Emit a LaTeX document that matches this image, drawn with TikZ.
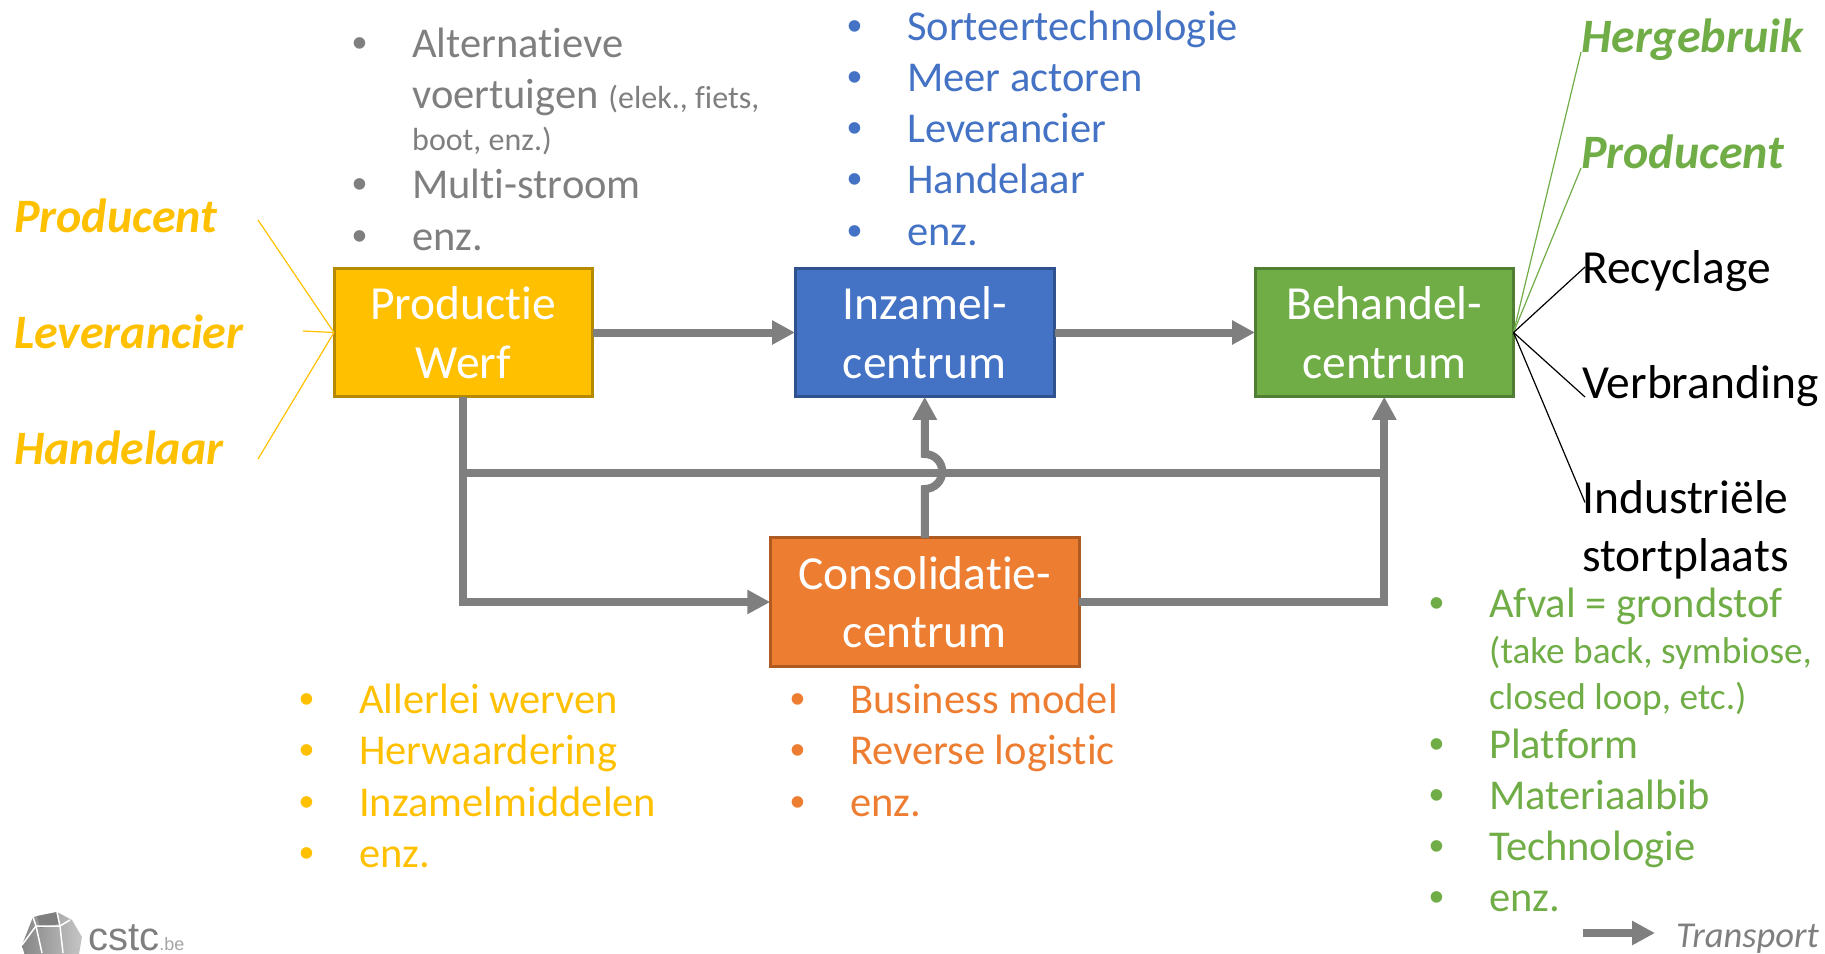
\documentclass[tikz,border=0pt]{standalone}
\usepackage{fontspec}
\setmainfont{Carlito}[Ligatures=NoCommon]
\newfontfamily\logofont{Liberation Sans}
\usetikzlibrary{positioning}
\usetikzlibrary{calc}
\usetikzlibrary{arrows.meta}
\definecolor{werfyellow}{HTML}{FFC000}
\definecolor{werfborder}{HTML}{B58900}
\definecolor{inzamelblue}{HTML}{4472C4}
\definecolor{inzamelborder}{HTML}{2F528F}
\definecolor{behandelgreen}{HTML}{70AD47}
\definecolor{behandelborder}{HTML}{507E32}
\definecolor{consorange}{HTML}{ED7D31}
\definecolor{consborder}{HTML}{AE5A21}
\definecolor{transportgrey}{HTML}{7F7F7F}
\newcommand{\bul}{\makebox[59pt][l]{\hspace*{-1pt}{\logofont\textbullet}}}
\newcommand{\ind}{\hspace*{59pt}}
\tikzset{%
  flow/.style = {draw=transportgrey,line width=8pt},
  flowarrow/.style = {flow,-{Triangle[length=23pt,width=23pt]}},
  box/.style = {rectangle,draw,line width=3pt,text=white,align=center,outer sep=0pt,
        minimum height=128.5pt,font=\fontsize{47.5}{58.5}\selectfont},
  blist/.style = {anchor=north west,inner sep=0pt,align=left,
        font=\fontsize{42.5}{51.2}\selectfont},
  role/.style = {anchor=base west,inner sep=0pt,font=\fontsize{48}{58}\selectfont\bfseries\itshape},
  outcome/.style = {anchor=base west,inner sep=0pt,align=left,font=\fontsize{47.5}{58}\selectfont}
}
\begin{document}
\begin{tikzpicture}[x=1pt,y=-1pt]
    \useasboundingbox (0,0) rectangle (1825,953);
    \node[box,fill=werfyellow,draw=werfborder,minimum width=258.5pt] (werf) at (463.25,332.5) {Productie\\Werf};
    \node[box,fill=inzamelblue,draw=inzamelborder,minimum width=259.5pt,right=202.5pt of werf] (inzamel) {Inzamel-\\centrum};
    \node[box,fill=behandelgreen,draw=behandelborder,minimum width=258.5pt,right=200.5pt of inzamel] (behandel) {Behandel-\\centrum};
    \node[box,fill=consorange,draw=consborder,minimum width=309pt] (cons) at (924.75,602) {Consolidatie-\\centrum};

    \coordinate (branch) at (463.25,473);
    \coordinate (jumplow) at ($(cons.north)+(0,-48.75)$);
    \draw[flowarrow] (werf) -- (inzamel);
    \draw[flowarrow] (inzamel) -- (behandel);
    \draw[flowarrow] (werf.south) |- (cons.west);
    \draw[flow] (branch) -- (branch -| behandel.south);
    \draw[flowarrow] (cons.east) -| (behandel.south);
    \draw[flowarrow] (cons.north) -- (jumplow) arc[start angle=90,end angle=-90,radius=17.5] -- (inzamel.south);

    \node[blist,text=transportgrey] (listwerfgrey) at (353,27.5) {\bul Alternatieve\\
        \ind voertuigen {\fontsize{32}{40}\selectfont(elek., fiets,}\\[-9pt]
        \ind{\fontsize{32}{40}\selectfont boot, enz.)}\\[-3pt]
        \bul Multi-stroom\\
        \bul enz.};
    \node[blist,text=inzamelblue] (listinzamel) at (848,10.5) {\bul Sorteertechnologie\\
        \bul Meer actoren\\
        \bul Leverancier\\
        \bul Handelaar\\
        \bul enz.};
    \node[blist,text=werfyellow] (listwerf) at (300,684) {\bul Allerlei werven\\
        \bul Herwaardering\\
        \bul Inzamelmiddelen\\
        \bul enz.};
    \node[blist,text=consorange] (listcons) at (791,684) {\bul Business model\\
        \bul Reverse logistic\\
        \bul enz.};
    \node[blist,text=behandelgreen] (listbehandel) at (1430,588) {\bul Afval = grondstof\\[-5pt]
        \ind{\fontsize{37.3}{45}\selectfont (take back, symbiose,}\\[-6pt]
        \ind{\fontsize{37.3}{45}\selectfont closed loop, etc.)}\\[-2pt]
        \bul Platform\\
        \bul Materiaalbib\\
        \bul Technologie\\
        \bul enz.};

    \node[role,text=werfyellow] (producent) at (14,232) {Producent};
    \node[role,text=werfyellow] (leverancier) at (14,348) {Leverancier};
    \node[role,text=werfyellow] (handelaar) at (14,464) {Handelaar};
    \coordinate (producentend) at (258,220);
    \coordinate (leverancierend) at (303,331);
    \coordinate (handelaarend) at (258,459);
    \draw[werfyellow,line width=1.2pt] (producentend) -- (werf.west);
    \draw[werfyellow,line width=1.2pt] (leverancierend) -- (werf.west);
    \draw[werfyellow,line width=1.2pt] (handelaarend) -- (werf.west);

    \node[role,text=behandelgreen] (hergebruik) at (1581,52) {Hergebruik};
    \node[role,text=behandelgreen] (producentuit) at (1581,168) {Producent};
    \node[outcome] (recyclage) at (1582,283) {Recyclage};
    \node[outcome] (verbranding) at (1582,398) {Verbranding};
    \node[outcome,anchor=north west] (stort) at (1582,480.5) {Industriële\\stortplaats};
    \draw[behandelgreen,line width=1.2pt] (behandel.east) -- (hergebruik.base west);
    \draw[behandelgreen,line width=1.2pt] (behandel.east) -- (producentuit.base west);
    \draw[line width=1.2pt] (behandel.east) -- ($(recyclage.base west)+(3,-16)$);
    \draw[line width=1.2pt] (behandel.east) -- ($(verbranding.base west)+(3,-1)$);
    \draw[line width=1.2pt] (behandel.east) -- ($(stort.north west)+(3,22)$);

    \coordinate (legendstart) at (1583,933);
    \coordinate (legendend) at (1655,933);
    \draw[flowarrow] (legendstart) -- (legendend);
    \node[anchor=base west,inner sep=0pt,text=transportgrey,font=\fontsize{36.5}{44}\selectfont\itshape] (legend) at (1676,947) {Transport};

    \begin{scope}
    \clip (0,0) rectangle (1825,953);
    \shade[left color=transportgrey!95,right color=transportgrey!45] (22,945) -- (33,917) -- (57,912) -- (72,920) -- (82,937) -- (78,960) -- (26,960) -- cycle;
    \fill[transportgrey] (37,916) -- (57,912) -- (59,924) -- (40,928) -- cycle;
    \draw[white,line width=1.5pt] (22,945) -- (36,926) -- (60,926) -- (70,920);
    \draw[white,line width=1.5pt] (36,926) -- (33,917);
    \draw[white,line width=1.5pt] (60,926) -- (63,953);
    \draw[white,line width=1.5pt] (60,926) -- (57,912);
    \draw[white,line width=1.5pt] (36,926) -- (42,953);
    \end{scope}
    \node[anchor=base west,inner sep=0pt,text=transportgrey,font=\fontsize{40}{48}\logofont] (logo) at (88,950) {cstc{\fontsize{18}{20}\selectfont\color{transportgrey!70}.be}};
\end{tikzpicture}
\end{document}
